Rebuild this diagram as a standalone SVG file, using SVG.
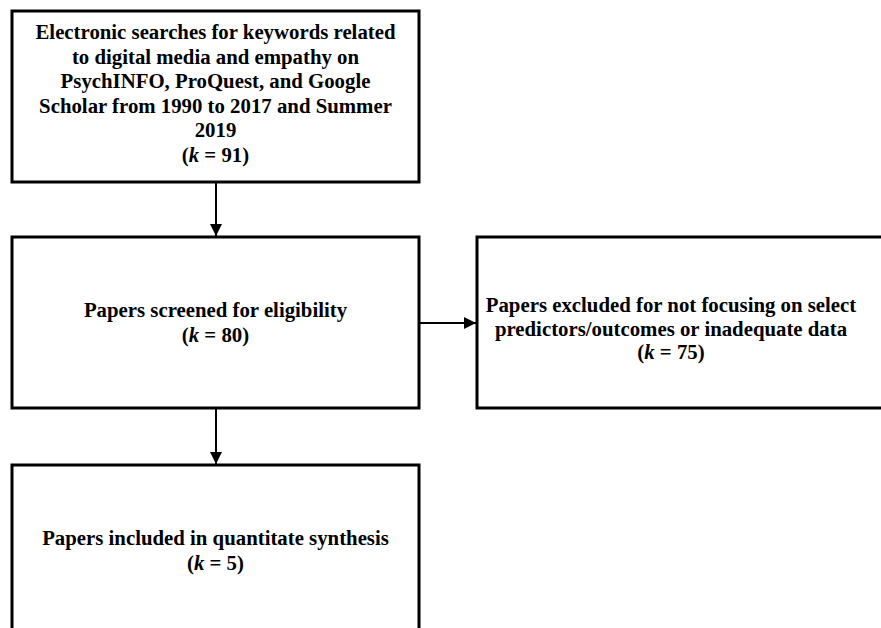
<svg xmlns="http://www.w3.org/2000/svg" width="881" height="628" viewBox="0 0 881 628">
<defs>
<style>
.box{fill:#fff;stroke:#000;stroke-width:3}
.t{font-family:"Liberation Serif","Times New Roman",serif;font-weight:bold;font-size:20.8px;fill:#000;text-anchor:middle}
.k{font-style:italic}
.c{stroke:#000;stroke-width:2;fill:none}
</style>
<marker id="ah" viewBox="0 0 10 10" refX="10" refY="5" markerWidth="14" markerHeight="12" markerUnits="userSpaceOnUse" orient="auto">
<path d="M0,0 L10,5 L0,10 Z" fill="#000"/>
</marker>
</defs>
<rect width="881" height="628" fill="#fff"/>
<g id="connectors">
<line class="c" x1="216" y1="182" x2="216" y2="236" marker-end="url(#ah)"/>
<line class="c" x1="419" y1="323" x2="476" y2="323" marker-end="url(#ah)"/>
<line class="c" x1="216" y1="408" x2="216" y2="464" marker-end="url(#ah)"/>
</g>
<g id="n1">
<rect class="box" x="12" y="11" width="407" height="171"/>
<text class="t" x="215.5" y="39">Electronic searches for keywords related</text>
<text class="t" x="215.5" y="63.5">to digital media and empathy on</text>
<text class="t" x="215.5" y="88">PsychINFO, ProQuest, and Google</text>
<text class="t" x="215.5" y="112.5">Scholar from 1990 to 2017 and Summer</text>
<text class="t" x="215.5" y="137">2019</text>
<text class="t" x="215.5" y="161.5">(<tspan class="k">k</tspan> = 91)</text>
</g>
<g id="n2">
<rect class="box" x="12" y="237" width="407" height="171"/>
<text class="t" x="215.5" y="317">Papers screened for eligibility</text>
<text class="t" x="215.5" y="342">(<tspan class="k">k</tspan> = 80)</text>
</g>
<g id="n3">
<rect class="box" x="477" y="237" width="410" height="171"/>
<text class="t" x="671" y="312">Papers excluded for not focusing on select</text>
<text class="t" x="671" y="336">predictors/outcomes or inadequate data</text>
<text class="t" x="671" y="359">(<tspan class="k">k</tspan> = 75)</text>
</g>
<g id="n4">
<rect class="box" x="12" y="465" width="407" height="175"/>
<text class="t" x="215.5" y="545">Papers included in quantitate synthesis</text>
<text class="t" x="215.5" y="570">(<tspan class="k">k</tspan> = 5)</text>
</g>
</svg>
